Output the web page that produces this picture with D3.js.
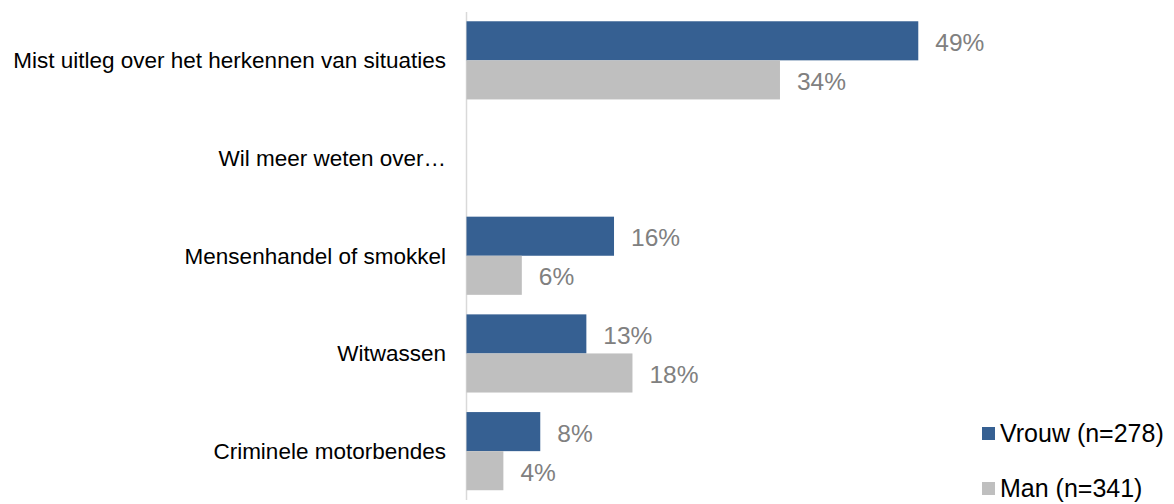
<!DOCTYPE html>
<html>
<head>
<meta charset="utf-8">
<script src="https://cdn.jsdelivr.net/npm/d3@7"></script>
<style>
  html, body { margin: 0; padding: 0; background: #fff; }
  svg { display: block; font-family: "Liberation Sans", Arial, sans-serif; }
</style>
</head>
<body>
<svg id="chart" width="1174" height="504"></svg>
<script>
const categories = [
  "Mist uitleg over het herkennen van situaties",
  "Wil meer weten over…",
  "Mensenhandel of smokkel",
  "Witwassen",
  "Criminele motorbendes"
];
const seriesNames = ["Vrouw (n=278)", "Man (n=341)"];
const vrouw = [49, null, 16, 13, 8];
const man = [34, null, 6, 18, 4];
const colors = ["#366092", "#bfbfbf"];

const svg = d3.select("#chart");
const x = d3.scaleLinear().domain([0, 50]).range([466.5, 927.5]);
const y = d3.scaleBand().domain(categories).range([11.5, 500]).paddingInner(0.2).paddingOuter(0.1);
const sub = d3.scaleBand().domain(seriesNames).range([0, y.bandwidth()]);

const rows = categories.map((c, i) => ({ c, vals: [vrouw[i], man[i]] }));

// axis line
svg.append("line")
  .attr("x1", x(0)).attr("x2", x(0))
  .attr("y1", 12).attr("y2", 500)
  .attr("stroke", "#d9d9d9").attr("stroke-width", 1.5);

// category labels
svg.append("g").selectAll("text").data(categories).join("text")
  .attr("x", 446)
  .attr("y", d => y(d) + y.bandwidth() / 2)
  .attr("dy", "0.35em")
  .attr("text-anchor", "end")
  .attr("font-size", 22.5)
  .attr("fill", "#000")
  .text(d => d);

const g = svg.append("g").selectAll("g").data(rows).join("g")
  .attr("transform", d => `translate(0,${y(d.c)})`);

g.selectAll("rect").data(d => d.vals.map((v, j) => ({ v, j })).filter(e => e.v != null)).join("rect")
  .attr("x", x(0))
  .attr("y", e => sub(seriesNames[e.j]))
  .attr("width", e => x(e.v) - x(0))
  .attr("height", sub.bandwidth())
  .attr("fill", e => colors[e.j]);

g.selectAll("text").data(d => d.vals.map((v, j) => ({ v, j })).filter(e => e.v != null)).join("text")
  .attr("x", e => x(e.v) + 17)
  .attr("y", e => sub(seriesNames[e.j]) + sub.bandwidth() / 2 + 1.5)
  .attr("dy", "0.35em")
  .attr("font-size", 24.5)
  .attr("fill", "#808080")
  .text(e => e.v + "%");

// legend
const legY = [433.5, 488.5];
const leg = svg.append("g").selectAll("g").data(seriesNames).join("g")
  .attr("transform", (d, i) => `translate(982,${legY[i]})`);
leg.append("rect").attr("x", 0).attr("y", -6.5).attr("width", 13).attr("height", 13)
  .attr("fill", (d, i) => colors[i]);
leg.append("text").attr("x", 18).attr("y", 0).attr("dy", "0.35em")
  .attr("font-size", 25).attr("fill", "#000").text(d => d);
</script>
</body>
</html>
